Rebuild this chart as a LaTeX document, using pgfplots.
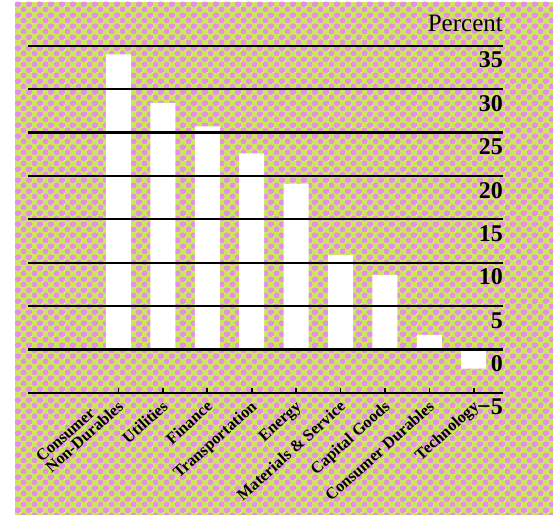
\documentclass[border=0pt]{standalone}
\usepackage{pgfplots}
\pgfplotsset{compat=1.18}
\usepackage{fontspec}
\setmainfont{Liberation Serif}
\usetikzlibrary{patterns}
\definecolor{bggreen}{RGB}{204,232,88}
\definecolor{bgpink}{RGB}{228,142,234}
\pgfdeclarepatterninherentlycolored{halftone}{\pgfpointorigin}{\pgfpoint{10.6pt}{10.6pt}}{\pgfpoint{10.6pt}{10.6pt}}{%
  \pgfsetfillcolor{bgpink}%
  \pgfpathcircle{\pgfpoint{2.65pt}{2.65pt}}{3.0pt}%
  \pgfpathcircle{\pgfpoint{7.95pt}{7.95pt}}{3.0pt}%
  \pgfusepath{fill}%
}
\begin{document}
\begin{tikzpicture}
\useasboundingbox (0,0) rectangle (553pt,518pt);
\fill[bggreen] (15pt,3pt) rectangle (553pt,516pt);
\fill[pattern=halftone] (15pt,3pt) rectangle (553pt,516pt);
\begin{axis}[
  at={(28pt,125pt)}, anchor=south west,
  scale only axis, width=475pt, height=347.3pt,
  xmin=-2.038, xmax=8.66, ymin=-5, ymax=35,
  axis on top,
  axis line style={draw=none},
  ytick={-5,0,5,10,15,20,25,30,35},
  yticklabels={−5,0,5,10,15,20,25,30,35},
  yticklabel pos=right,
  ytick style={draw=none},
  yticklabel style={font=\fontsize{24}{24}\selectfont\bfseries, anchor=north east, inner sep=0pt, yshift=-6pt},
  ymajorgrids,
  grid style={black, line width=2.2pt},
  xtick={0,1,2,3,4,5,6,7,8},
  xticklabels={\shortstack[l]{Consumer\\Non-Durables},Utilities,Finance,Transportation,Energy,Materials \& Service,Capital Goods,Consumer Durables,Technology},
  xtick pos=left, xtick align=inside,
  major tick length=5pt,
  xtick style={black, line width=1.6pt},
  xticklabel style={font=\fontsize{16.3}{16}\selectfont\bfseries, inner sep=0pt, xshift=6pt, yshift=-15pt, rotate=42, anchor=base east},
]
\addplot[ybar, bar width=25pt, fill=white, draw=none] coordinates {
  (0,34.0) (1,28.4) (2,25.7) (3,22.6) (4,19.1) (5,10.9) (6,8.6) (7,1.7) (8,-2.2)
};
\end{axis}
\node[anchor=base east, inner sep=0pt, font=\fontsize{25}{25}\selectfont] at (503pt,486pt) {Percent};
\end{tikzpicture}
\end{document}
